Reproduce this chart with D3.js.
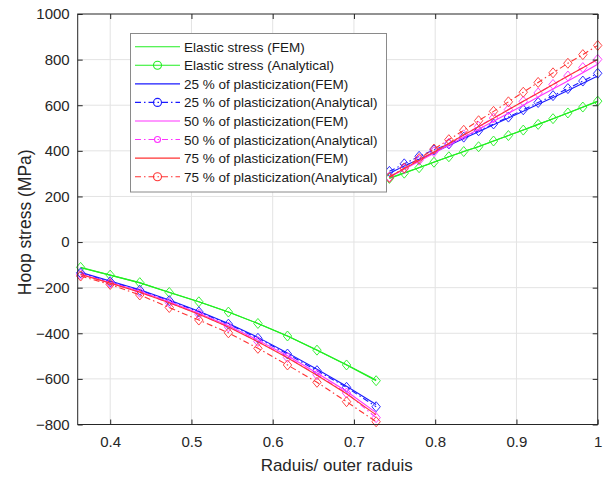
<!DOCTYPE html>
<html>
<head>
<meta charset="utf-8">
<script src="https://cdn.jsdelivr.net/npm/d3@7"></script>
<style>
  html, body { margin: 0; padding: 0; background: #fff; }
  svg { display: block; font-family: "Liberation Sans", Arial, sans-serif; }
</style>
</head>
<body>
<svg id="chart" width="606" height="478"></svg>
<script>
// ---------- data ----------
const xInner = [0.3636, 0.4, 0.4364, 0.4727, 0.5091, 0.5455, 0.5818, 0.6182, 0.6545, 0.6909, 0.7273];
const xOuter = [0.7436, 0.7619, 0.7802, 0.7985, 0.8168, 0.8351, 0.8534, 0.8718, 0.8901, 0.9084, 0.9267, 0.945, 0.9633, 0.9817, 1.0];

const elasticFEMInner = [-113, -145, -179, -220, -262, -307, -357, -412, -473, -538, -605];
const elasticFEMOuter = [281, 304, 327, 351, 374, 397, 419, 443, 467, 491, 516, 541, 566, 591, 616];
const elasticAnaInner = [-111, -145, -178, -221, -262, -307, -357, -412, -474, -539, -608];
const elasticAnaOuter = [279, 302, 326, 350, 374, 397, 418, 443, 467, 491, 516, 541, 566, 592, 618];

const p25FEMInner = [-133, -171, -209, -254, -303, -357, -418, -486, -558, -632, -712];
const p25FEMOuter = [302, 333, 363, 393, 423, 454, 484, 514, 544, 574, 604, 634, 665, 696, 728];
const p25AnaInner = [-135, -174, -211, -257, -306, -360, -422, -491, -564, -637, -722];
const p25AnaOuter = [310, 343, 376, 404, 430, 460, 488, 518, 548, 580, 612, 642, 673, 706, 740];

const p50FEMInner = [-140, -177, -216, -262, -312, -367, -430, -499, -574, -654, -748];
const p50FEMOuter = [284, 319, 354, 389, 425, 460, 495, 530, 565, 600, 636, 671, 706, 742, 780];
const p50AnaInner = [-142, -180, -220, -266, -316, -372, -436, -506, -582, -662, -770];
const p50AnaOuter = [285, 322, 359, 396, 433, 470, 507, 544, 581, 617, 654, 691, 728, 765, 801];

const p75FEMInner = [-142, -180, -220, -266, -317, -373, -437, -507, -584, -665, -758];
const p75FEMOuter = [286, 322, 359, 395, 432, 469, 506, 543, 580, 617, 654, 691, 728, 764, 801];
const p75AnaInner = [-149, -186, -232, -287, -342, -398, -466, -539, -615, -700, -788];
const p75AnaOuter = [283, 325, 366, 408, 449, 490, 532, 573, 615, 657, 700, 742, 784, 822, 862];

const seriesNames = [
  "Elastic stress (FEM)",
  "Elastic stress (Analytical)",
  "25 % of plasticization(FEM)",
  "25 % of plasticization(Analytical)",
  "50 % of plasticization(FEM)",
  "50 % of plasticization(Analytical)",
  "75 % of plasticization(FEM)",
  "75 % of plasticization(Analytical)"
];
const seriesInner = [elasticFEMInner, elasticAnaInner, p25FEMInner, p25AnaInner, p50FEMInner, p50AnaInner, p75FEMInner, p75AnaInner];
const seriesOuter = [elasticFEMOuter, elasticAnaOuter, p25FEMOuter, p25AnaOuter, p50FEMOuter, p50AnaOuter, p75FEMOuter, p75AnaOuter];

const xTicks = [0.4, 0.5, 0.6, 0.7, 0.8, 0.9, 1];
const yTicks = [-800, -600, -400, -200, 0, 200, 400, 600, 800, 1000];
const xTitle = "Raduis/ outer raduis";
const yTitle = "Hoop stress (MPa)";

// ---------- styles ----------
const colors = ["#22ee22", "#22ee22", "#1a1aff", "#1a1aff", "#ff33ff", "#ff33ff", "#ff3333", "#ff3333"];
const dashed = [false, false, false, true, false, true, false, true];
const markers = [false, true, false, true, false, true, false, true];
const legendMarkerR = [0, 4, 0, 4, 0, 3, 0, 4];

// ---------- layout ----------
const svg = d3.select("#chart");
const L = 77.7, R = 597.7, T = 14, B = 424.5;
const x = d3.scaleLinear().domain([0.36, 1]).range([L, R]);
const y = d3.scaleLinear().domain([-800, 1000]).range([B, T]);
const axisColor = "#262626";

svg.append("rect").attr("x", 0).attr("y", 0).attr("width", 606).attr("height", 478).attr("fill", "#fff");

// grid
const grid = svg.append("g");
grid.selectAll(".gx").data(xTicks.filter(d => d < 1)).enter().append("line")
  .attr("x1", d => x(d)).attr("x2", d => x(d)).attr("y1", T).attr("y2", B)
  .attr("stroke", "#e3e3e3").attr("stroke-width", 1);
grid.selectAll(".gy").data(yTicks.filter(d => d > -800 && d < 1000)).enter().append("line")
  .attr("x1", L).attr("x2", R).attr("y1", d => y(d)).attr("y2", d => y(d))
  .attr("stroke", "#e3e3e3").attr("stroke-width", 1);

// series
const line = d3.line().x(d => x(d[0])).y(d => y(d[1]));
const diamond = "M0,-5L4.2,0L0,5L-4.2,0Z";
const plot = svg.append("g");
seriesNames.forEach((name, i) => {
  [[xInner, seriesInner[i]], [xOuter, seriesOuter[i]]].forEach(([xs, ys]) => {
    const pts = xs.map((v, j) => [v, ys[j]]);
    plot.append("path").attr("d", line(pts)).attr("fill", "none")
      .attr("stroke", colors[i]).attr("stroke-width", 1.1)
      .attr("stroke-dasharray", dashed[i] ? "6,3,1.5,3" : null);
    if (markers[i]) {
      plot.selectAll(null).data(pts).enter().append("path")
        .attr("d", diamond)
        .attr("transform", d => `translate(${x(d[0])},${y(d[1])})`)
        .attr("fill", "none").attr("stroke", colors[i]).attr("stroke-width", 0.9);
    }
  });
});

// axes box and ticks
const axes = svg.append("g");
const xAxisB = d3.axisBottom(x).tickValues(xTicks).tickSize(-5).tickPadding(12).tickFormat(d3.format("~g"));
const xAxisT = d3.axisTop(x).tickValues(xTicks).tickSize(-5).tickFormat("");
const yAxisL = d3.axisLeft(y).tickValues(yTicks).tickSize(-5).tickPadding(8).tickFormat(d3.format("d"));
const yAxisR = d3.axisRight(y).tickValues(yTicks).tickSize(-5).tickFormat("");
function styleAxis(g) {
  g.select(".domain").remove();
  g.selectAll(".tick line").attr("stroke", axisColor);
  g.selectAll(".tick text").attr("fill", axisColor).style("font-size", "15px")
    .style("font-family", "'Liberation Sans', Arial, sans-serif");
}
axes.append("g").attr("transform", `translate(0,${B})`).call(xAxisB).call(styleAxis);
axes.append("g").attr("transform", `translate(0,${T})`).call(xAxisT).call(styleAxis);
axes.append("g").attr("transform", `translate(${L},0)`).call(yAxisL).call(styleAxis);
axes.append("g").attr("transform", `translate(${R},0)`).call(yAxisR).call(styleAxis);
axes.append("rect").attr("x", L).attr("y", T).attr("width", R - L).attr("height", B - T)
  .attr("fill", "none").attr("stroke", axisColor).attr("stroke-width", 1);

// axis titles
svg.append("text").attr("x", (L + R) / 2 - 1).attr("y", 471)
  .attr("text-anchor", "middle").attr("fill", axisColor).style("font-size", "17px").text(xTitle);
svg.append("text").attr("transform", `translate(31,${(T + B) / 2 + 3}) rotate(-90)`)
  .attr("text-anchor", "middle").attr("fill", axisColor).style("font-size", "17.5px").text(yTitle);

// legend
const lg = svg.append("g");
lg.append("rect").attr("x", 130.5).attr("y", 33.5).attr("width", 256).attr("height", 158.5)
  .attr("fill", "#fff").attr("stroke", "#8a8a8a").attr("stroke-width", 1);
const rowY = i => 46.7 + i * 18.57;
seriesNames.forEach((name, i) => {
  const cy = rowY(i);
  lg.append("line").attr("x1", 135).attr("x2", 180).attr("y1", cy).attr("y2", cy)
    .attr("stroke", colors[i]).attr("stroke-width", 1.1)
    .attr("stroke-dasharray", dashed[i] ? "6,3,1.5,3" : null);
  if (markers[i]) {
    lg.append("circle").attr("cx", 157.5).attr("cy", cy).attr("r", legendMarkerR[i])
      .attr("fill", "none").attr("stroke", colors[i]).attr("stroke-width", 1.1);
  }
  lg.append("text").attr("x", 184).attr("y", cy + 5).attr("fill", "#1a1a1a")
    .style("font-size", "13.5px").text(name);
});
</script>
</body>
</html>
